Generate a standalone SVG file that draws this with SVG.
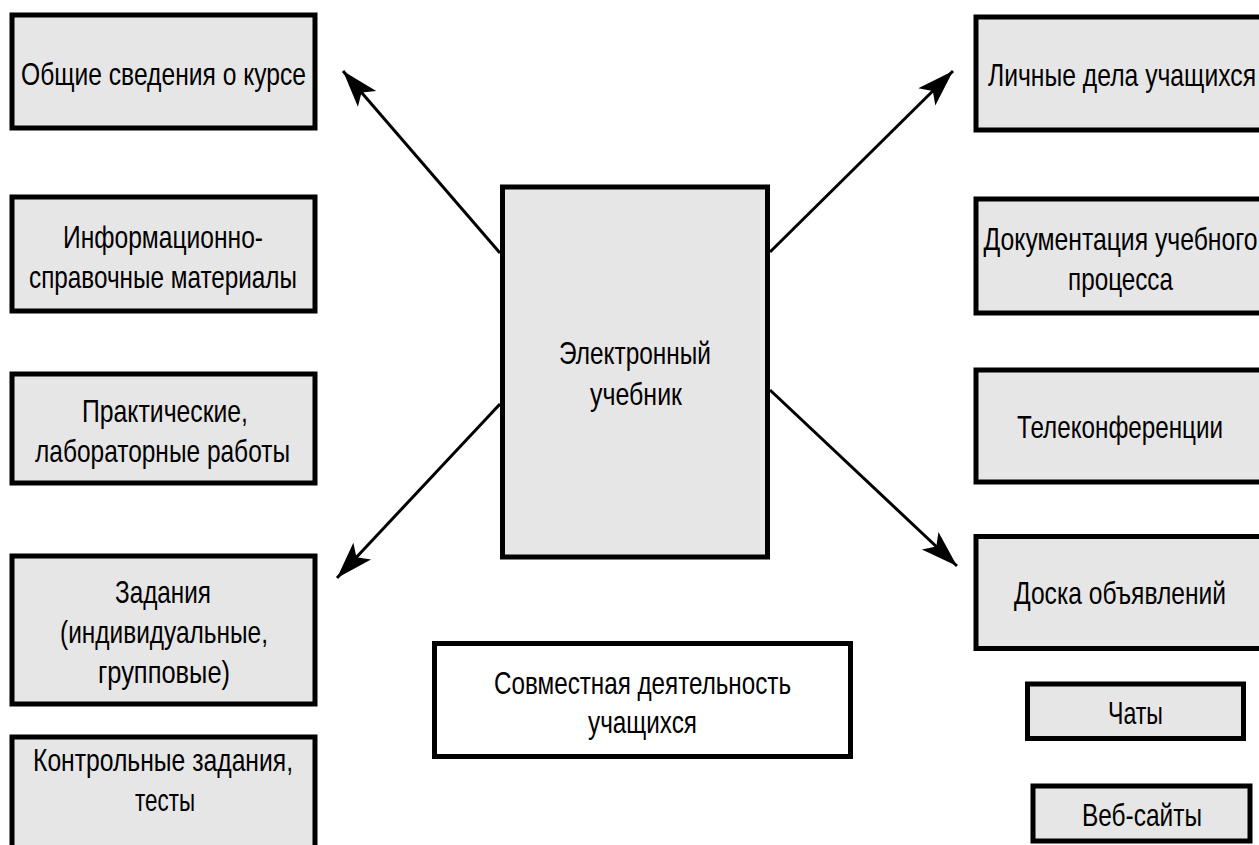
<svg xmlns="http://www.w3.org/2000/svg" width="1259" height="845" viewBox="0 0 1259 845">
<defs>
<style>
.box{fill:#e6e6e6;stroke:#000;stroke-width:5}
.wbox{fill:#fff;stroke:#000;stroke-width:5}
.t{font-family:"Liberation Sans Narrow","Liberation Sans",Arial,sans-serif;font-size:32px;fill:#000;text-anchor:middle}
.c{stroke:#000;stroke-width:3;fill:none;marker-end:url(#ah)}
</style>
<marker id="ah" markerUnits="userSpaceOnUse" markerWidth="40" markerHeight="30" viewBox="-36 -13 38 26" refX="0" refY="0" orient="auto">
<path d="M0,0 L-35,-11.5 L-27,0 L-35,11.5 Z" fill="#000"/>
</marker>
</defs>
<rect width="1259" height="845" fill="#fff"/>
<g id="connectors">
<line class="c" x1="500" y1="253" x2="343" y2="71"/>
<line class="c" x1="770" y1="252" x2="953" y2="71"/>
<line class="c" x1="500" y1="404" x2="337" y2="578"/>
<line class="c" x1="770" y1="390" x2="957" y2="566"/>
</g>
<g id="n-center">
<rect class="box" x="502.5" y="187" width="265" height="370"/>
<text class="t" x="635" y="364" textLength="152" lengthAdjust="spacingAndGlyphs">Электронный</text>
<text class="t" x="636" y="405" textLength="92" lengthAdjust="spacingAndGlyphs">учебник</text>
</g>
<g id="n-obshchie">
<rect class="box" x="12" y="15" width="303" height="113"/>
<text class="t" x="163.5" y="85" textLength="285" lengthAdjust="spacingAndGlyphs">Общие сведения о курсе</text>
</g>
<g id="n-info">
<rect class="box" x="12" y="197" width="303" height="114"/>
<text class="t" x="163" y="248" textLength="200" lengthAdjust="spacingAndGlyphs">Информационно-</text>
<text class="t" x="163" y="288" textLength="268" lengthAdjust="spacingAndGlyphs">справочные материалы</text>
</g>
<g id="n-prakt">
<rect class="box" x="12" y="374" width="303" height="109"/>
<text class="t" x="165" y="422" textLength="166" lengthAdjust="spacingAndGlyphs">Практические,</text>
<text class="t" x="162.5" y="462" textLength="255" lengthAdjust="spacingAndGlyphs">лабораторные работы</text>
</g>
<g id="n-zadaniya">
<rect class="box" x="12" y="556" width="303" height="148"/>
<text class="t" x="163" y="603" textLength="96" lengthAdjust="spacingAndGlyphs">Задания</text>
<text class="t" x="164" y="643" textLength="208" lengthAdjust="spacingAndGlyphs">(индивидуальные,</text>
<text class="t" x="164" y="683" textLength="132" lengthAdjust="spacingAndGlyphs">групповые)</text>
</g>
<g id="n-kontrol">
<rect class="box" x="12" y="737" width="303" height="150"/>
<text class="t" x="163" y="771" textLength="260" lengthAdjust="spacingAndGlyphs">Контрольные задания,</text>
<text class="t" x="165" y="811" textLength="60" lengthAdjust="spacingAndGlyphs">тесты</text>
</g>
<g id="n-lichnye">
<rect class="box" x="976" y="17" width="286" height="113"/>
<text class="t" x="1122" y="86" textLength="268" lengthAdjust="spacingAndGlyphs">Личные дела учащихся</text>
</g>
<g id="n-dokum">
<rect class="box" x="976" y="199" width="286" height="114"/>
<text class="t" x="1120.5" y="250" textLength="274" lengthAdjust="spacingAndGlyphs">Документация учебного</text>
<text class="t" x="1120.5" y="290" textLength="105" lengthAdjust="spacingAndGlyphs">процесса</text>
</g>
<g id="n-telekonf">
<rect class="box" x="976" y="370" width="286" height="112"/>
<text class="t" x="1120" y="438" textLength="206" lengthAdjust="spacingAndGlyphs">Телеконференции</text>
</g>
<g id="n-doska">
<rect class="box" x="976" y="536.5" width="286" height="112"/>
<text class="t" x="1120" y="604" textLength="212" lengthAdjust="spacingAndGlyphs">Доска объявлений</text>
</g>
<g id="n-chaty">
<rect class="box" x="1027.5" y="684" width="216" height="54.5"/>
<text class="t" x="1135.5" y="724" textLength="55" lengthAdjust="spacingAndGlyphs">Чаты</text>
</g>
<g id="n-vebsaity">
<rect class="box" x="1033" y="786" width="217" height="55"/>
<text class="t" x="1142" y="826" textLength="120" lengthAdjust="spacingAndGlyphs">Веб-сайты</text>
</g>
<g id="n-sovmest">
<rect class="wbox" x="434.5" y="643.5" width="416" height="113"/>
<text class="t" x="642.5" y="694" textLength="297" lengthAdjust="spacingAndGlyphs">Совместная деятельность</text>
<text class="t" x="642.5" y="733" textLength="109" lengthAdjust="spacingAndGlyphs">учащихся</text>
</g>
</svg>
